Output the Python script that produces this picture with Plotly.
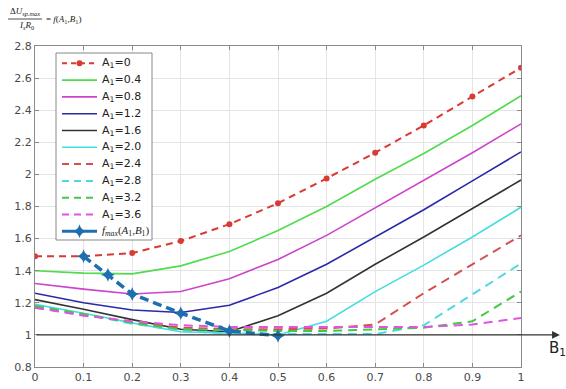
import plotly.graph_objects as go

B1 = [0, 0.1, 0.2, 0.3, 0.4, 0.5, 0.6, 0.7, 0.8, 0.9, 1.0]
A1_labels = ["0", "0.4", "0.8", "1.2", "1.6", "2.0", "2.4", "2.8", "3.2", "3.6"]
A1_0 = [1.49, 1.49, 1.51, 1.585, 1.69, 1.82, 1.975, 2.135, 2.305, 2.485, 2.665]
A1_04 = [1.40, 1.385, 1.38, 1.43, 1.52, 1.65, 1.80, 1.97, 2.13, 2.305, 2.49]
A1_08 = [1.32, 1.285, 1.255, 1.27, 1.35, 1.47, 1.62, 1.79, 1.96, 2.135, 2.315]
A1_12 = [1.26, 1.20, 1.155, 1.14, 1.185, 1.295, 1.44, 1.61, 1.78, 1.96, 2.14]
A1_16 = [1.22, 1.16, 1.095, 1.035, 1.02, 1.12, 1.26, 1.44, 1.61, 1.785, 1.965]
A1_20 = [1.19, 1.135, 1.075, 1.02, 1.01, 1.0, 1.085, 1.27, 1.435, 1.61, 1.795]
A1_24 = [1.17, 1.125, 1.08, 1.045, 1.035, 1.035, 1.04, 1.065, 1.26, 1.44, 1.62]
A1_28 = [1.185, 1.13, 1.07, 1.025, 1.01, 1.005, 1.005, 1.005, 1.06, 1.255, 1.445]
A1_32 = [1.18, 1.13, 1.075, 1.035, 1.03, 1.025, 1.025, 1.035, 1.045, 1.085, 1.27]
A1_36 = [1.17, 1.12, 1.085, 1.06, 1.05, 1.05, 1.05, 1.05, 1.05, 1.065, 1.105]
fmax_B1 = [0.1, 0.15, 0.2, 0.3, 0.4, 0.5]
fmax_val = [1.49, 1.375, 1.255, 1.135, 1.025, 0.995]

series = [A1_0, A1_04, A1_08, A1_12, A1_16, A1_20, A1_24, A1_28, A1_32, A1_36]
colors = ["#d93a32", "#4fdc4f", "#cc44cc", "#2a2aa8", "#333333",
          "#45dde0", "#d45050", "#50d8e0", "#44c844", "#e055e0"]
dashes = ["7px,5px", "solid", "solid", "solid", "solid", "solid",
          "9px,6px", "9px,6px", "9px,6px", "9px,6px"]
widths = [2, 1.6, 1.6, 1.6, 1.6, 1.6, 2, 2, 2, 2]
fmax_color = "#1f6fb0"

# figure geometry (pixels)
W, H = 566, 389
ML, MR, MT, MB = 35, 45, 46, 22
PW, PH = W - ML - MR, H - MT - MB


def px(x):
    return (x - ML) / PW


def py(y):
    return (H - MB - y) / PH


fig = go.Figure()
for i, (lab, ys) in enumerate(zip(A1_labels, series)):
    fig.add_trace(go.Scatter(
        x=B1, y=ys, name="A<sub>1</sub>=" + lab,
        mode="lines+markers" if i == 0 else "lines",
        line=dict(color=colors[i], dash=dashes[i], width=widths[i]),
        marker=dict(size=6, color=colors[i]),
        showlegend=False,
    ))

fmax_name = ("<i>f</i><sub><i>max</i></sub>(<i>A</i><sub>1</sub>,<i>B</i><sub>1</sub>)")
fig.add_trace(go.Scatter(
    x=fmax_B1, y=fmax_val, name=fmax_name,
    mode="lines+markers",
    line=dict(color=fmax_color, dash="9px,5px", width=3.5),
    marker=dict(symbol="star-diamond", size=10, color=fmax_color),
    showlegend=False,
))

axis_common = dict(
    showgrid=True, gridcolor="#e4e4e4", gridwidth=1,
    showline=True, linecolor="#8a8a8a", linewidth=1, mirror="ticks",
    ticks="inside", ticklen=4, tickcolor="#8a8a8a",
    tickfont=dict(family="DejaVu Sans", size=11, color="#4a4a4a"),
    zeroline=False, automargin=False,
)
fig.update_xaxes(range=[0, 1], dtick=0.1, tick0=0, **axis_common)
fig.update_yaxes(range=[0.8, 2.8], dtick=0.2, tick0=0.8, **axis_common)

# overlay axes in pixel-like coordinates for the hand-drawn legend
fig.update_layout(
    xaxis2=dict(overlaying="x", range=[ML, W - MR], visible=False, fixedrange=True),
    yaxis2=dict(overlaying="y", range=[H - MB, MT], visible=False, fixedrange=True),
)

# legend box (white filled rectangle drawn as a closed path on the overlay axes)
LX0, LX1, LY0, LY1 = 56, 152, 53, 240
fig.add_trace(go.Scatter(
    x=[LX0, LX1, LX1, LX0, LX0], y=[LY0, LY0, LY1, LY1, LY0],
    xaxis="x2", yaxis="y2", mode="lines", fill="toself", fillcolor="white",
    line=dict(color="#888", width=1), showlegend=False, hoverinfo="skip"))

leg_names = ["A<sub>1</sub>=" + l for l in A1_labels] + [fmax_name]
leg_colors = colors + [fmax_color]
leg_dashes = ["5px,4px", "solid", "solid", "solid", "solid", "solid",
              "7px,5px", "7px,5px", "7px,5px", "7px,5px", "solid"]
leg_widths = widths + [3]
step = 16.8
for i, nm in enumerate(leg_names):
    yy = 63.3 + i * step
    fig.add_trace(go.Scatter(
        x=[62, 97], y=[yy, yy], xaxis="x2", yaxis="y2", mode="lines",
        line=dict(color=leg_colors[i], dash=leg_dashes[i], width=leg_widths[i]),
        showlegend=False, hoverinfo="skip"))
    if i == 0:
        fig.add_trace(go.Scatter(
            x=[79.5], y=[yy], xaxis="x2", yaxis="y2", mode="markers",
            marker=dict(size=6, color=leg_colors[i]), showlegend=False, hoverinfo="skip"))
    if i == 10:
        fig.add_trace(go.Scatter(
            x=[79.5], y=[yy], xaxis="x2", yaxis="y2", mode="markers",
            marker=dict(symbol="star-diamond", size=10, color=fmax_color),
            showlegend=False, hoverinfo="skip"))
    fnt = dict(family="DejaVu Sans", size=11, color="#222")
    if i == 10:
        fnt = dict(family="Liberation Serif", size=11, color="#222")
    fig.add_annotation(x=100, y=yy, xref="x2", yref="y2", text=nm, showarrow=False,
                       xanchor="left", yanchor="middle", font=fnt)

# horizontal axis line at 1 with arrow
fig.add_annotation(x=1.08, y=1, ax=0, ay=1, xref="x", yref="y", axref="x", ayref="y",
                   text="", showarrow=True, arrowhead=2, arrowsize=1.3, arrowwidth=1.2,
                   arrowcolor="#333")
fig.add_annotation(x=px(557), y=py(348), xref="paper", yref="paper", text="B<sub>1</sub>",
                   showarrow=False, xanchor="center", yanchor="middle",
                   font=dict(family="DejaVu Sans", size=15, color="#222"))

# formula at top left
serif = dict(family="Liberation Serif", size=9, color="#222")
fig.add_annotation(xref="paper", yref="paper", x=px(8), y=py(12), xanchor="left",
                   yanchor="middle", showarrow=False,
                   text="Δ<i>U</i><sub><i>sp.max</i></sub>", font=serif)
fig.add_annotation(xref="paper", yref="paper", x=px(17), y=py(26), xanchor="left",
                   yanchor="middle", showarrow=False,
                   text="<i>I</i><sub><i>s</i></sub><i>R</i><sub>0</sub>", font=serif)
fig.add_shape(type="line", xref="paper", yref="paper", x0=px(8), x1=px(42),
              y0=py(19), y1=py(19), line=dict(color="#222", width=0.8))
fig.add_annotation(xref="paper", yref="paper", x=px(44), y=py(19), xanchor="left",
                   yanchor="middle", showarrow=False,
                   text="= <i>f</i>(<i>A</i><sub>1</sub>,<i>B</i><sub>1</sub>)", font=serif)

fig.update_layout(
    width=W, height=H,
    margin=dict(l=ML, r=MR, t=MT, b=MB, autoexpand=False),
    paper_bgcolor="white", plot_bgcolor="white",
    showlegend=False,
)

fig.write_html("out.html", config={"displayModeBar": False},
               post_script="document.body.style.margin='0';document.body.style.overflow='hidden';")
